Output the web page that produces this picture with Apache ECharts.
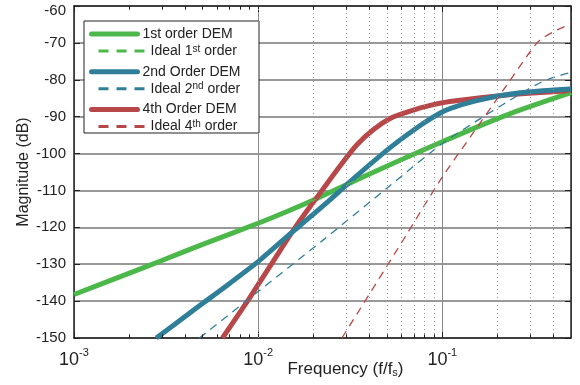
<!DOCTYPE html>
<html>
<head>
<meta charset="utf-8">
<script src="https://cdn.jsdelivr.net/npm/echarts@6/dist/echarts.min.js"></script>
<style>
html, body { margin: 0; padding: 0; background: #fff; }
#chart { width: 580px; height: 385px; }
</style>
</head>
<body>
<div id="chart"></div>
<script>
// values (f/fs, dB)
var freq1 = [0.001, 0.002, 0.003, 0.005, 0.01, 0.015, 0.02, 0.04, 0.1, 0.225, 0.5];
var dem1 = [-138.2, -132.4, -129.0, -124.6, -118.9, -115.3, -112.6, -105.6, -96.8, -89.5, -83.5];
var ideal1 = [-138.2, -132.4, -129.0, -124.6, -118.9, -115.3, -112.6, -105.6, -96.8, -89.5, -83.5];

var freq2 = [0.0028, 0.0035, 0.00445, 0.00526, 0.007, 0.01, 0.0116, 0.0149, 0.0169, 0.025, 0.0344, 0.0521, 0.079, 0.0975, 0.11, 0.15, 0.225, 0.35, 0.5];
var dem2 = [-150, -146.4, -142.5, -139.8, -135.2, -129.3, -126.5, -121.8, -119.5, -112.2, -106.0, -98.4, -91.8, -89.0, -87.8, -85.8, -84.0, -83.0, -82.5];

var freqI2 = [0.0048, 0.01, 0.0226, 0.05, 0.0975, 0.15, 0.225, 0.35, 0.5];
var ideal2 = [-150, -137.4, -123.4, -109.4, -97.7, -91.5, -86.0, -80.5, -78.0];

var freq4 = [0.0064, 0.00875, 0.01, 0.0118, 0.0159, 0.0226, 0.0279, 0.0344, 0.0425, 0.0521, 0.065, 0.079, 0.11, 0.225, 0.5];
var dem4 = [-150, -140, -135.5, -130, -120, -109.5, -103.3, -97.6, -93.4, -90.5, -88.7, -87.4, -85.9, -84.1, -83.0];

var freqI4 = [0.0285, 0.063, 0.0975, 0.148, 0.225, 0.3, 0.34, 0.42, 0.5];
var ideal4 = [-150, -122.5, -107.2, -94.2, -81.3, -72.4, -69.2, -66.5, -64.8];

var decades = [0.001, 0.01, 0.1];
var minorSteps = [2, 3, 4, 5, 6, 7, 8, 9];

var richNames = {
	'Ideal 1st order': 'Ideal 1{sup|st} order',
	'Ideal 2nd order': 'Ideal 2{sup|nd} order',
	'Ideal 4th order': 'Ideal 4{sup|th} order'
};

var green = '#4cb84a', blue = '#2f7f98', red = '#b8474a';
var font = 'Liberation Sans, Arial, sans-serif';

function pairs(xs, ys) {
	var out = [];
	for (var i = 0; i < xs.length; i++) out.push([xs[i], ys[i]]);
	return out;
}

// minor (2..9) positions for the dotted grid and the little edge ticks
var minorLines = [], minorTicks = [];
for (var d = 0; d < decades.length; d++) {
	for (var m = 0; m < minorSteps.length; m++) {
		var v = decades[d] * minorSteps[m];
		if (v >= 0.5) continue;
		minorLines.push({ xAxis: v });
		minorTicks.push([{ coord: [v, -150] }, { coord: [v, -149] }]);
		minorTicks.push([{ coord: [v, -60] }, { coord: [v, -61] }]);
	}
}

var myChart = echarts.init(document.getElementById('chart'));
var option = {
	animation: false,
	backgroundColor: '#fff',
	grid: { left: 74, right: 9, top: 6, bottom: 47, outerBoundsMode: 'none', containLabel: false },
	legend: [{
		data: ['1st order DEM', '2nd Order DEM', '4th Order DEM'],
		orient: 'vertical',
		left: 84, top: 22,
		itemWidth: 46, itemHeight: 14, itemGap: 23.7,
		selectedMode: false,
		itemStyle: { opacity: 0 },
		lineStyle: { width: 5, cap: 'round' },
		textStyle: { fontFamily: font, fontSize: 14, color: '#222', lineHeight: 14 }
	}, {
		data: ['Ideal 1st order', 'Ideal 2nd order', 'Ideal 4th order'],
		orient: 'vertical',
		left: 92, top: 39,
		itemWidth: 47, itemHeight: 14, itemGap: 23.7,
		selectedMode: false,
		itemStyle: { opacity: 0 },
		lineStyle: { width: 3, type: [10, 8] },
		formatter: function(name) { return richNames[name] || name; },
		textStyle: {
			fontFamily: font, fontSize: 14, color: '#222', lineHeight: 14,
			rich: { sup: { fontFamily: font, fontSize: 10, verticalAlign: 'top', lineHeight: 14, color: '#222' } }
		}
	}],
	graphic: [{
		type: 'rect', z: 3,
		shape: { x: 84, y: 21, width: 175, height: 112 },
		style: { fill: '#fff', stroke: '#222', lineWidth: 1 }
	}],
	xAxis: [{
		type: 'log', logBase: 10, min: 0.001, max: 0.5, position: 'bottom',
		axisLine: { lineStyle: { color: '#222', width: 1.5 } },
		axisTick: { inside: true, length: 6, lineStyle: { color: '#222' } },
		axisLabel: {
			margin: 9, showMaxLabel: false, color: '#222',
			formatter: function(v) { return '{b|10}{sup|' + Math.round(Math.log10(v)) + '}'; },
			rich: {
				b: { fontFamily: font, fontSize: 18, color: '#222', lineHeight: 22, verticalAlign: 'bottom' },
				sup: { fontFamily: font, fontSize: 11, color: '#222', lineHeight: 22, verticalAlign: 'top' }
			}
		},
		splitLine: { show: true, lineStyle: { color: '#888', width: 1 } },
		name: 'Frequency (f/f{sub|s})',
		nameLocation: 'middle', nameGap: 23, nameMoveOverlap: false,
		nameTextStyle: {
			fontFamily: font, fontSize: 17, color: '#222', padding: [0, 0, 0, 46],
			rich: { sub: { fontFamily: font, fontSize: 11, color: '#222', verticalAlign: 'bottom' } }
		}
	}, {
		type: 'log', logBase: 10, min: 0.001, max: 0.5, position: 'top',
		axisLine: { lineStyle: { color: '#222', width: 1.5 } },
		axisTick: { inside: true, length: 6, lineStyle: { color: '#222' } },
		axisLabel: { show: false },
		splitLine: { show: false }
	}],
	yAxis: [{
		type: 'value', min: -150, max: -60, interval: 10, position: 'left',
		axisLine: { show: true, lineStyle: { color: '#222', width: 1.5 } },
		axisTick: { show: true, inside: true, length: 6, lineStyle: { color: '#222' } },
		axisLabel: {
			fontFamily: font, fontSize: 15, color: '#222', margin: 8,
			formatter: function(v) { return v === -60 ? '{top|-60}' : String(v); },
			rich: { top: { fontFamily: font, fontSize: 15, color: '#222', padding: [9, 0, 0, 0] } }
		},
		splitLine: { show: true, lineStyle: { color: '#999', width: 2 } },
		name: 'Magnitude (dB)', nameLocation: 'middle', nameGap: 42, nameRotate: 90,
		nameMoveOverlap: false,
		nameTextStyle: { fontFamily: font, fontSize: 16, color: '#222' }
	}, {
		type: 'value', min: -150, max: -60, interval: 10, position: 'right',
		axisLine: { show: true, lineStyle: { color: '#222', width: 1.5 } },
		axisTick: { show: true, inside: true, length: 6, lineStyle: { color: '#222' } },
		axisLabel: { show: false },
		splitLine: { show: false }
	}],
	series: [{
		name: 'minor grid', type: 'line', data: [], z: 1, silent: true,
		markLine: {
			silent: true, symbol: 'none', animation: false,
			label: { show: false },
			lineStyle: { color: '#999', width: 1, type: [1, 3] },
			data: minorLines
		}
	}, {
		name: 'minor ticks', type: 'line', data: [], z: 1, silent: true,
		markLine: {
			silent: true, symbol: 'none', animation: false,
			label: { show: false },
			lineStyle: { color: '#222', width: 1, type: 'solid' },
			data: minorTicks
		}
	}, {
		name: '1st order DEM', type: 'line', data: pairs(freq1, dem1),
		symbol: 'none', smooth: 0.3, color: green,
		lineStyle: { color: green, width: 5 }
	}, {
		name: '4th Order DEM', type: 'line', data: pairs(freq4, dem4),
		symbol: 'none', smooth: 0.3, color: red,
		lineStyle: { color: red, width: 5 }
	}, {
		name: '2nd Order DEM', type: 'line', data: pairs(freq2, dem2),
		symbol: 'none', smooth: 0.3, color: blue,
		lineStyle: { color: blue, width: 5 }
	}, {
		name: 'Ideal 1st order', type: 'line', data: pairs(freq1, ideal1),
		symbol: 'none', smooth: 0.3, color: green,
		lineStyle: { color: green, width: 1.5, type: [8, 6] }
	}, {
		name: 'Ideal 2nd order', type: 'line', data: pairs(freqI2, ideal2),
		symbol: 'none', smooth: 0.3, color: blue,
		lineStyle: { color: blue, width: 1.3, type: [8, 6] }
	}, {
		name: 'Ideal 4th order', type: 'line', data: pairs(freqI4, ideal4),
		symbol: 'none', smooth: 0.3, color: red,
		lineStyle: { color: red, width: 1.3, type: [8, 6] }
	}]
};
myChart.setOption(option);
</script>
</body>
</html>
